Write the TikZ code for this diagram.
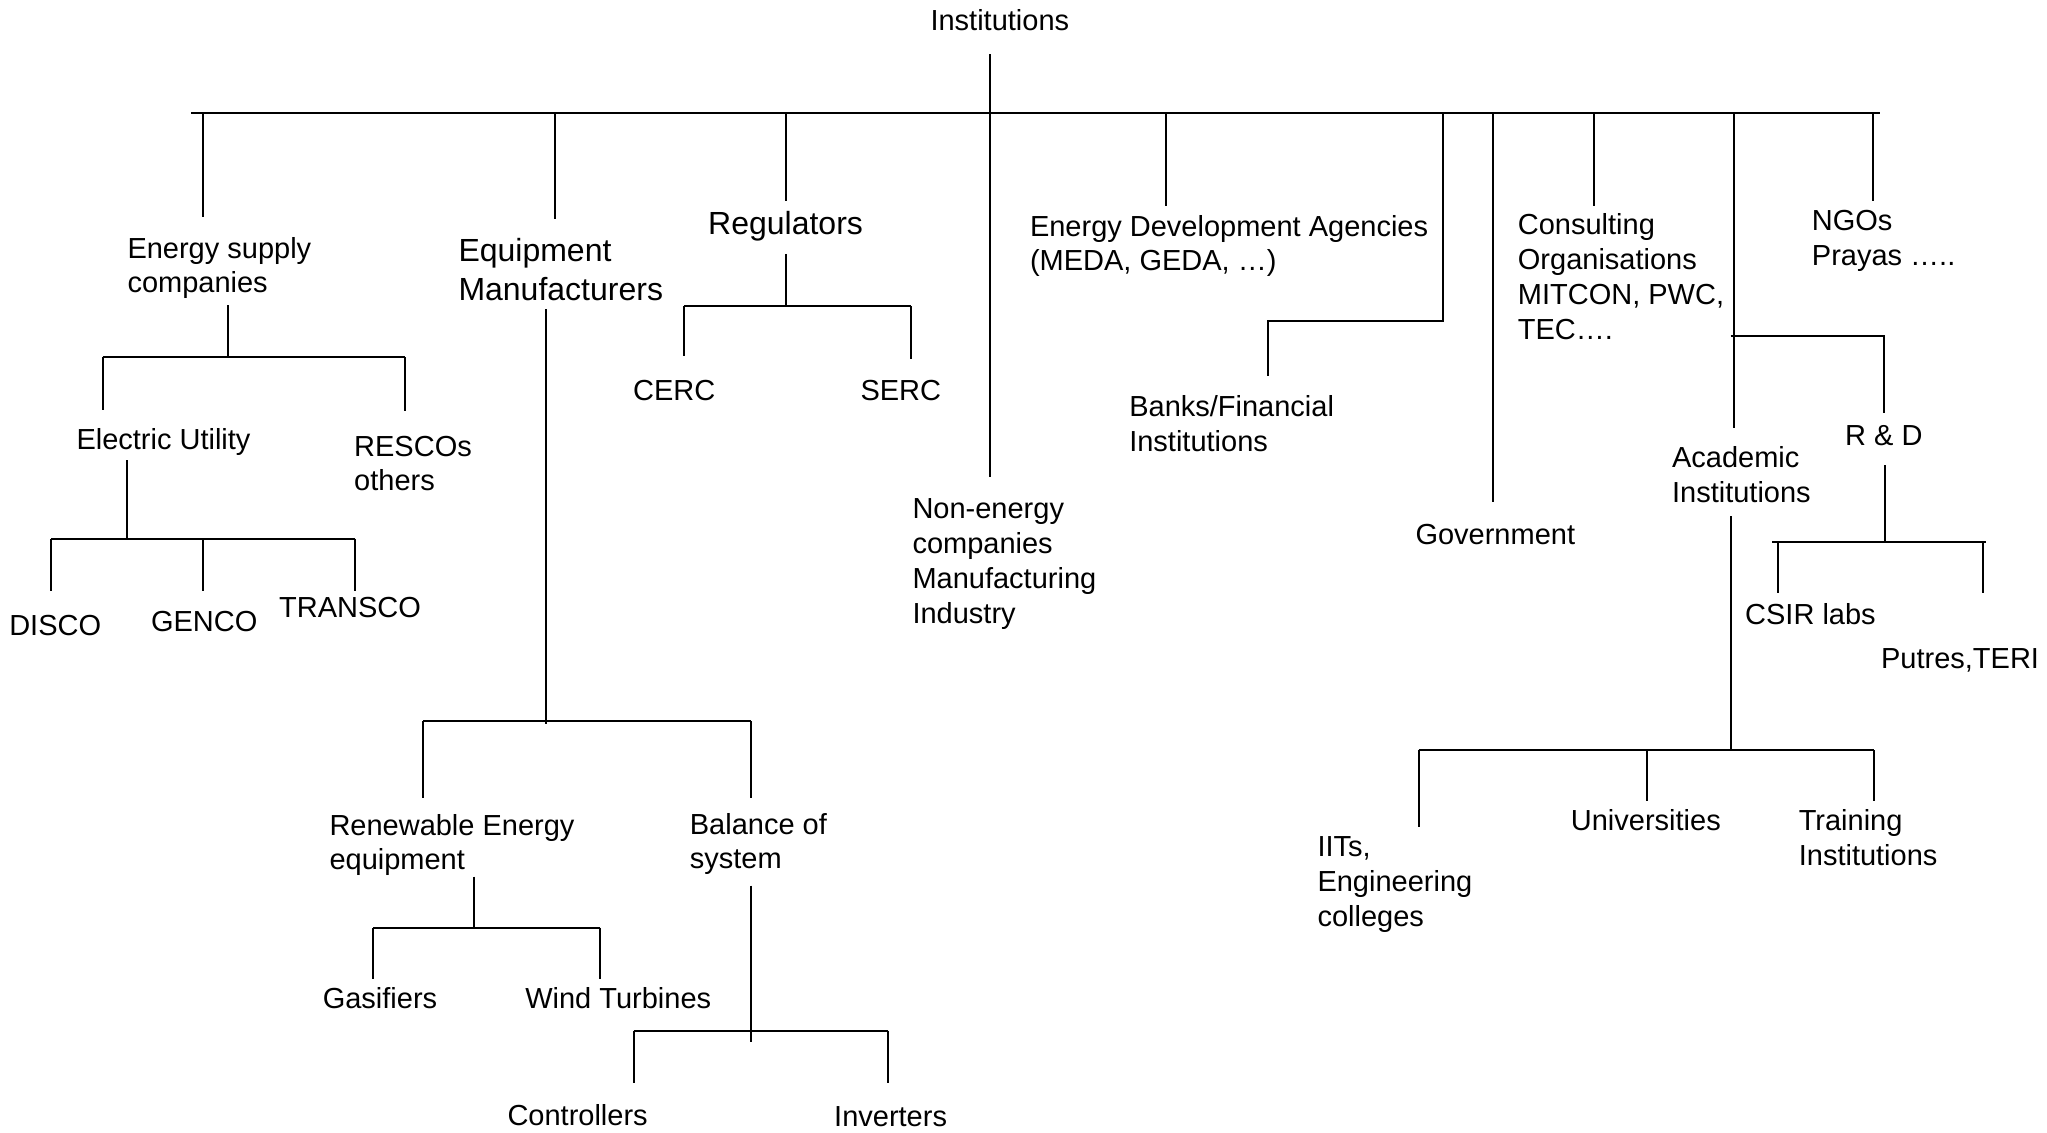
\documentclass[tikz,border=0pt]{standalone}
\usepackage{fontspec}
\setmainfont{Liberation Sans}
\tikzset{
  lbl/.style={anchor=north west, inner sep=0pt, align=left,
    xshift=-0.75pt, yshift=1pt,
    font=\fontsize{14.5}{17.4}\selectfont},
  biglbl/.style={lbl, font=\fontsize{16}{19.5}\selectfont}
}
\begin{document}
\begin{tikzpicture}[x=0.5pt, y=-0.5pt, line width=1pt]
  \useasboundingbox (0,0) rectangle (2047,1132);
  % labels
  \node[lbl] (inst) at (931,10.8) {Institutions};
  \node[lbl] (esc) at (128,238) {Energy supply\\companies};
  \node[biglbl] (eqm) at (459,239) {Equipment\\Manufacturers};
  \node[biglbl] (reg) at (708.7,212) {Regulators};
  \node[lbl] (ne) at (913,500) {Non-energy\\companies\\Manufacturing\\Industry};
  \node[lbl] (eda) at (1030.5,216) {Energy Development Agencies\\(MEDA, GEDA, …)};
  \node[lbl] (bank) at (1129.8,396.4) {Banks/Financial\\Institutions};
  \node[lbl] (gov) at (1416,525) {Government};
  \node[lbl] (cons) at (1518.4,214.8) {Consulting\\Organisations\\MITCON, PWC,\\TEC….};
  \node[lbl] (acad) at (1672.6,447.7) {Academic\\Institutions};
  \node[lbl] (ngo) at (1812.4,211) {NGOs\\Prayas …..};
  \node[lbl] (rd) at (1845.7,426) {R \& D};
  \node[lbl] (eu) at (77,429.6) {Electric Utility};
  \node[lbl] (res) at (354.7,436.8) {RESCOs\\others};
  \node[lbl] (disco) at (9.8,616.5) {DISCO};
  \node[lbl] (genco) at (151.5,612) {GENCO};
  \node[lbl] (transco) at (279.6,598.5) {TRANSCO};
  \node[lbl] (ree) at (330,815) {Renewable Energy\\equipment};
  \node[lbl] (bos) at (690.4,814) {Balance of\\system};
  \node[lbl] (gas) at (323.3,988.4) {Gasifiers};
  \node[lbl] (wind) at (525.8,988.4) {Wind Turbines};
  \node[lbl] (ctrl) at (508,1105.7) {Controllers};
  \node[lbl] (inv) at (834.7,1107.5) {Inverters};
  \node[lbl] (cerc) at (633.6,381) {CERC};
  \node[lbl] (serc) at (861,381) {SERC};
  \node[lbl] (csir) at (1745.7,604) {CSIR labs};
  \node[lbl] (put) at (1881.6,649.8) {Putres,TERI};
  \node[lbl] (iit) at (1318,837.5) {IITs,\\Engineering\\colleges};
  \node[lbl] (univ) at (1571.4,810.4) {Universities};
  \node[lbl] (train) at (1799.3,810.4) {Training\\Institutions};
  % junctions
  \path
    (989.5,54) coordinate (inst-s)
    (989.5,477) coordinate (ne-n)
    (191,112.6) coordinate (top-l)
    (1880,112.6) coordinate (top-r)
    (202.5,216.6) coordinate (esc-n)
    (554.5,218.8) coordinate (eqm-n)
    (785.8,201.4) coordinate (reg-n)
    (1165.7,205.8) coordinate (eda-n)
    (1443.3,321.3) coordinate (bank-c)
    (1267.6,375.5) coordinate (bank-n)
    (1493,501.8) coordinate (gov-n)
    (1594.2,205.8) coordinate (cons-n)
    (1734,427.8) coordinate (acad-n)
    (1873,201.4) coordinate (ngo-n)
    (228,305) coordinate (esc-s)
    (102.5,357.4) coordinate (esc-l)
    (405,357.4) coordinate (esc-r)
    (102.5,409.7) coordinate (eu-n)
    (405,410.5) coordinate (res-n)
    (126.7,460) coordinate (eu-s)
    (51,538.6) coordinate (eu-l)
    (354.7,538.6) coordinate (eu-r)
    (51,591.3) coordinate (disco-n)
    (202.5,591.3) coordinate (genco-n)
    (354.7,591.3) coordinate (transco-n)
    (546,309.4) coordinate (eqm-s)
    (546,723.8) coordinate (eqm-j)
    (423,721.2) coordinate (eqm-l)
    (751,721.2) coordinate (eqm-r)
    (423,798) coordinate (ree-n)
    (751,798) coordinate (bos-n)
    (473.5,876.5) coordinate (ree-s)
    (373,927.7) coordinate (ree-l)
    (599.6,927.7) coordinate (ree-r)
    (373,979.4) coordinate (gas-n)
    (599.6,979.4) coordinate (wind-n)
    (751,885.5) coordinate (bos-s)
    (751,1041.8) coordinate (bos-j)
    (633.6,1030.6) coordinate (bos-l)
    (888.3,1030.6) coordinate (bos-r)
    (633.6,1083.3) coordinate (ctrl-n)
    (888.3,1083.3) coordinate (inv-n)
    (785.8,253.8) coordinate (reg-s)
    (684,306) coordinate (reg-l)
    (911,306) coordinate (reg-r)
    (684,355.6) coordinate (cerc-n)
    (911,358.5) coordinate (serc-n)
    (1730.7,335.7) coordinate (rd-l)
    (1884,335.7) coordinate (rd-r)
    (1884,413.4) coordinate (rd-n)
    (1884.8,465) coordinate (rd-s)
    (1772,542.2) coordinate (rd-bl)
    (1986,542.2) coordinate (rd-br)
    (1778.4,593) coordinate (csir-n)
    (1982.8,593) coordinate (put-n)
    (1730.7,516) coordinate (acad-s)
    (1418.5,750) coordinate (acad-l)
    (1874.4,750) coordinate (acad-r)
    (1418.5,827) coordinate (iit-n)
    (1646.5,801.4) coordinate (univ-n)
    (1874.4,801.4) coordinate (train-n);
  % top level
  \draw (top-l) -- (top-r);
  \draw (inst-s) -- (ne-n);
  \draw (esc-n |- top-l) -- (esc-n);
  \draw (eqm-n |- top-l) -- (eqm-n);
  \draw (reg-n |- top-l) -- (reg-n);
  \draw (eda-n |- top-l) -- (eda-n);
  \draw (bank-c |- top-l) -- (bank-c) -| (bank-n);
  \draw (gov-n |- top-l) -- (gov-n);
  \draw (cons-n |- top-l) -- (cons-n);
  \draw (acad-n |- top-l) -- (acad-n);
  \draw (ngo-n |- top-l) -- (ngo-n);
  % energy supply
  \draw (esc-s) -- (esc-s |- esc-l);
  \draw (esc-l) -- (esc-r);
  \draw (esc-l) -- (eu-n);
  \draw (esc-r) -- (res-n);
  \draw (eu-s) -- (eu-s |- eu-l);
  \draw (eu-l) -- (eu-r);
  \draw (eu-l) -- (disco-n);
  \draw (genco-n |- eu-l) -- (genco-n);
  \draw (eu-r) -- (transco-n);
  % equipment
  \draw (eqm-s) -- (eqm-j);
  \draw (eqm-l) -- (eqm-r);
  \draw (eqm-l) -- (ree-n);
  \draw (eqm-r) -- (bos-n);
  \draw (ree-s) -- (ree-s |- ree-l);
  \draw (ree-l) -- (ree-r);
  \draw (ree-l) -- (gas-n);
  \draw (ree-r) -- (wind-n);
  \draw (bos-s) -- (bos-j);
  \draw (bos-l) -- (bos-r);
  \draw (bos-l) -- (ctrl-n);
  \draw (bos-r) -- (inv-n);
  % regulators
  \draw (reg-s) -- (reg-s |- reg-l);
  \draw (reg-l) -- (reg-r);
  \draw (reg-l) -- (cerc-n);
  \draw (reg-r) -- (serc-n);
  % R & D
  \draw (rd-l) -- (rd-r) -- (rd-n);
  \draw (rd-s) -- (rd-s |- rd-bl);
  \draw (rd-bl) -- (rd-br);
  \draw (csir-n |- rd-bl) -- (csir-n);
  \draw (put-n |- rd-bl) -- (put-n);
  % academic
  \draw (acad-s) -- (acad-s |- acad-l);
  \draw (acad-l) -- (acad-r);
  \draw (acad-l) -- (iit-n);
  \draw (univ-n |- acad-l) -- (univ-n);
  \draw (acad-r) -- (train-n);
\end{tikzpicture}
\end{document}
